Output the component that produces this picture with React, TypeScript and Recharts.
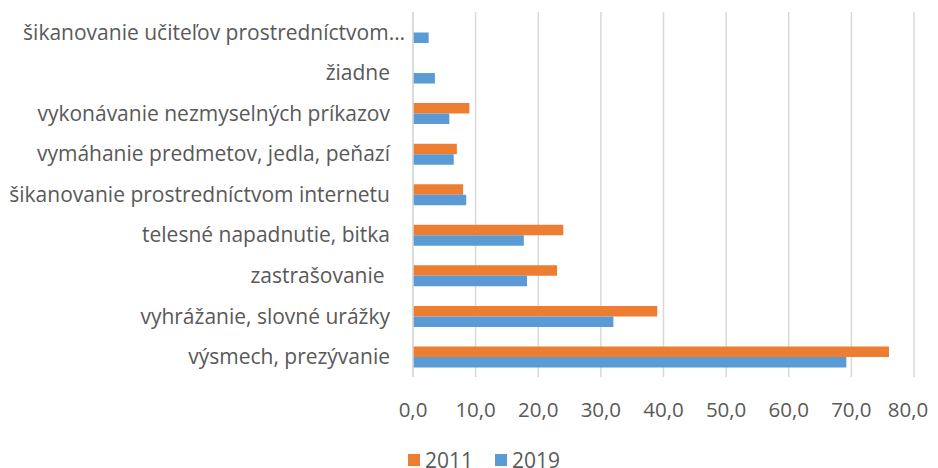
import React from "react";
import { BarChart, Bar, XAxis, YAxis, CartesianGrid, Legend } from "recharts";

const categories = [
  "šikanovanie učiteľov prostredníctvom…",
  "žiadne",
  "vykonávanie nezmyselných príkazov",
  "vymáhanie predmetov, jedla, peňazí",
  "šikanovanie prostredníctvom internetu",
  "telesné napadnutie, bitka",
  "zastrašovanie ",
  "vyhrážanie, slovné urážky",
  "výsmech, prezývanie",
];
const values2011: (number | null)[] = [null, null, 9, 7, 8, 24, 23, 39, 76];
const values2019: number[] = [2.5, 3.5, 5.8, 6.5, 8.5, 17.7, 18.2, 32, 69.2];
const xTicks = [0, 10, 20, 30, 40, 50, 60, 70, 80];
const seriesNames = ["2011", "2019"];
const colors = ["#ED7D31", "#5B9BD5"];

const data = categories.map((c, i) => ({
  name: c,
  y2011: values2011[i],
  y2019: values2019[i],
}));

const FONT = "'Open Sans', Lato, sans-serif";
const TEXT = "#595959";
const FS = 21;

const YTick = (props: any) => {
  const { x, y, payload } = props;
  const truncated = String(payload.value).endsWith("…");
  return (
    <text
      x={x + (truncated ? 15 : 0)}
      y={y}
      dy="0.35em"
      textAnchor="end"
      fill={TEXT}
      fontSize={FS}
      fontFamily={FONT}
      style={{ whiteSpace: "pre" }}
    >
      {payload.value}
    </text>
  );
};

const XTick = (props: any) => {
  const { x, y, payload } = props;
  const isLast = payload.value === xTicks[xTicks.length - 1];
  return (
    <text
      x={x + (isLast ? -6 : 0)}
      y={y}
      dy="0.71em"
      textAnchor="middle"
      fill={TEXT}
      fontSize={20.5}
      fontFamily={FONT}
    >
      {Number(payload.value).toFixed(1).replace(".", ",")}
    </text>
  );
};

const LegendContent = () => (
  <div style={{ display: "flex", gap: 22, fontFamily: FONT, fontSize: FS, color: TEXT, lineHeight: "24px" }}>
    {seriesNames.map((n, i) => (
      <div key={n} style={{ display: "flex", alignItems: "center", gap: 5 }}>
        <span style={{ display: "inline-block", width: 12, height: 12, background: colors[i] }} />
        <span>{n}</span>
      </div>
    ))}
  </div>
);

export default function App() {
  return (
    <>
      <style>{"html { overflow: hidden; }"}</style>
      <BarChart
        width={930}
        height={470}
        data={data}
        layout="vertical"
        margin={{ top: 4, right: 24, bottom: 32, left: 0 }}
        barGap={0}
        barSize={10.5}
        style={{ fontFamily: FONT, overflow: "visible" }}
      >
        <CartesianGrid horizontal={false} stroke="#D9D9D9" strokeWidth={1.5} />
        <XAxis
          type="number"
          domain={[0, 80]}
          ticks={xTicks}
          axisLine={false}
          tickLine={false}
          tickSize={0}
          tickMargin={25}
          height={45}
          tick={<XTick />}
          interval={0}
        />
        <YAxis
          type="category"
          dataKey="name"
          width={405}
          axisLine={{ stroke: "#D9D9D9", strokeWidth: 1.5 }}
          tickLine={false}
          tickSize={0}
          tickMargin={23}
          tick={<YTick />}
          interval={0}
        />
        <Legend
          verticalAlign="bottom"
          content={<LegendContent />}
          wrapperStyle={{ position: "absolute", left: 400, top: 440, width: "auto" }}
        />
        <Bar dataKey="y2011" name={seriesNames[0]} fill={colors[0]} isAnimationActive={false} />
        <Bar dataKey="y2019" name={seriesNames[1]} fill={colors[1]} isAnimationActive={false} />
      </BarChart>
    </>
  );
}
